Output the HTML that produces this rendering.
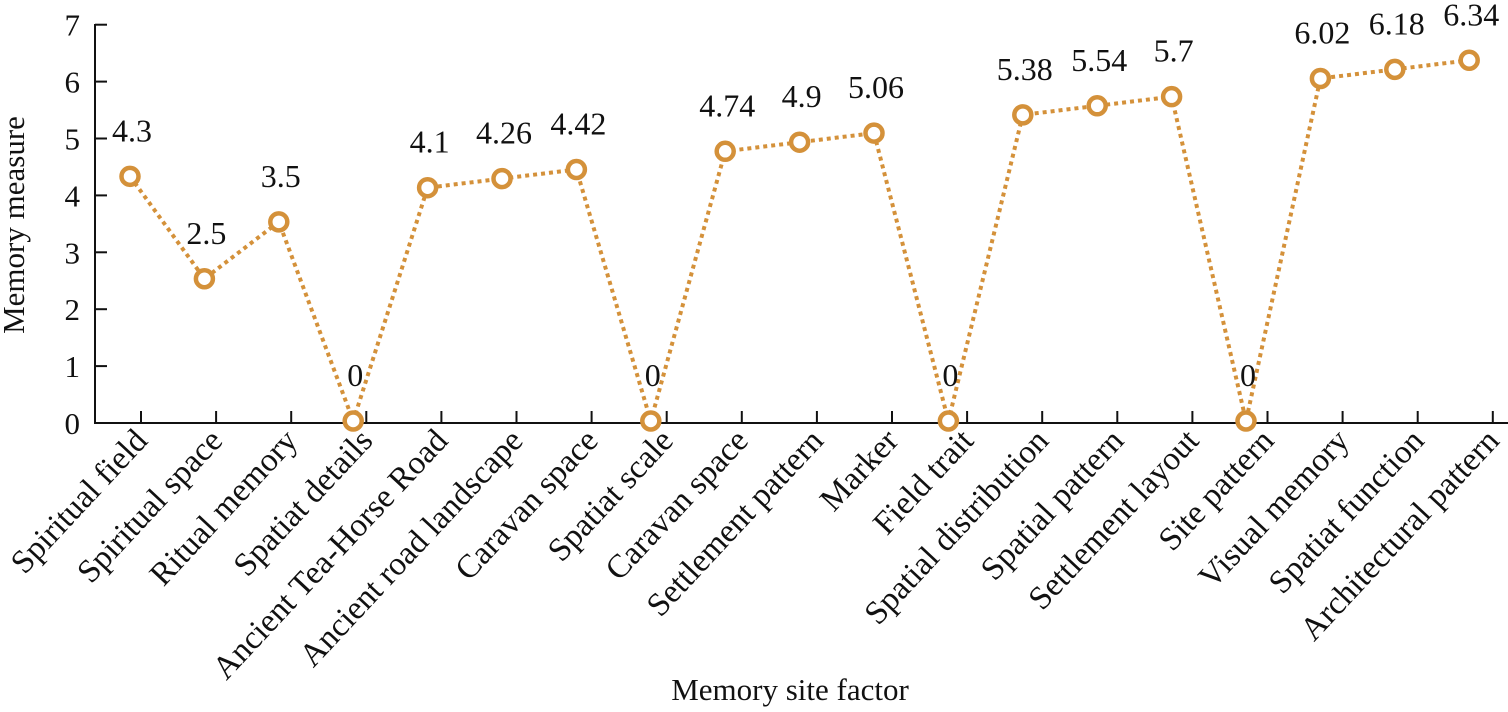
<!DOCTYPE html>
<html><head><style>body{margin:0;background:#fff}svg{display:block}text{font-family:"Liberation Serif",serif;fill:#111}</style></head>
<body>
<svg width="1508" height="712" viewBox="0 0 1508 712" xmlns="http://www.w3.org/2000/svg">
<g id="c"></g>
</svg>
<script>
const names=["Spiritual field","Spiritual space","Ritual memory","Spatiat details","Ancient Tea-Horse Road","Ancient road landscape","Caravan space","Spatiat scale","Caravan space","Settlement pattern","Marker","Field trait","Spatial distribution","Spatial pattern","Settlement layout","Site pattern","Visual memory","Spatiat function","Architectural pattern"];
const vals=[4.3,2.5,3.5,0,4.1,4.26,4.42,0,4.74,4.9,5.06,0,5.38,5.54,5.7,0,6.02,6.18,6.34];
const y0=423,st=56.9;let s='';
s+='<line x1="95" y1="24" x2="95" y2="424" stroke="#111" stroke-width="2"/>';
s+='<line x1="94" y1="423" x2="1508" y2="423" stroke="#111" stroke-width="2"/>';
for(let i=0;i<=7;i++){const y=y0-i*st;s+=`<line x1="95" y1="${y}" x2="107" y2="${y}" stroke="#111" stroke-width="2"/><text x="80" y="${y+11}" font-size="31" text-anchor="end">${i}</text>`;}
let pts=[];
for(let i=0;i<19;i++){const tx=141+i*75.1;s+=`<line x1="${tx}" y1="423" x2="${tx}" y2="411" stroke="#111" stroke-width="2"/>`;
const lx=tx+8, ly=442;s+=`<text x="${lx}" y="${ly}" font-size="33" text-anchor="end" transform="rotate(-47 ${lx} ${ly})">${names[i]}</text>`;
const px=130+i*74.4, py=y0-vals[i]*st-2;pts.push([px,py]);}
s+=`<polyline points="${pts.map(p=>p.join(',')).join(' ')}" fill="none" stroke="#D4913A" stroke-width="4" stroke-dasharray="4,4"/>`;
pts.forEach((p,i)=>{s+=`<circle cx="${p[0]}" cy="${p[1]}" r="8.5" fill="#fff" stroke="#D4913A" stroke-width="4.5"/><text x="${p[0]+2}" y="${p[1]-35}" font-size="32" text-anchor="middle">${vals[i]}</text>`;});
s+='<text x="0" y="0" font-size="31" text-anchor="middle" transform="translate(24 225) rotate(-90)">Memory measure</text>';
s+='<text x="790" y="700" font-size="31" text-anchor="middle">Memory site factor</text>';
document.getElementById('c').innerHTML=s;
</script>
</body></html>
